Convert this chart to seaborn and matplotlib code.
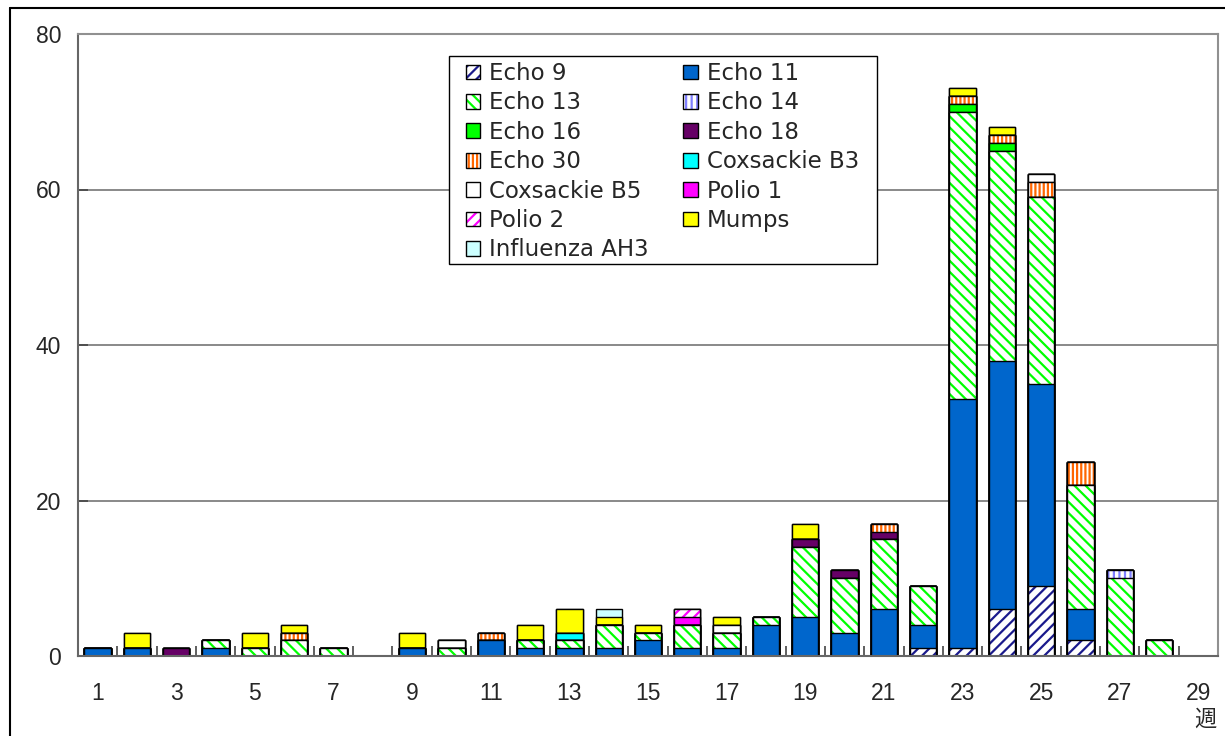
import matplotlib
matplotlib.use("Agg")
import matplotlib.pyplot as plt
from matplotlib.patches import Patch, Rectangle
import seaborn as sns
import pandas as pd
import numpy as np

# --- donnees : nombre de detections par semaine (semaines 1 a 29) ---
weeks = list(range(1, 30))
series = ["Echo 9", "Echo 11", "Echo 13", "Echo 14", "Echo 16", "Echo 18",
          "Echo 30", "Coxsackie B3", "Coxsackie B5", "Polio 1", "Polio 2",
          "Mumps", "Influenza AH3"]
#            1  2  3  4  5  6  7  8  9 10 11 12 13 14 15 16 17 18 19 20 21 22  23  24  25  26  27 28 29
echo9    = [0, 0, 0, 0, 0, 0, 0, 0, 0, 0, 0, 0, 0, 0, 0, 0, 0, 0, 0, 0, 0, 1,  1,  6,  9,  2,  0, 0, 0]
echo11   = [1, 1, 0, 1, 0, 0, 0, 0, 1, 0, 2, 1, 1, 1, 2, 1, 1, 4, 5, 3, 6, 3, 32, 32, 26,  4,  0, 0, 0]
echo13   = [0, 0, 0, 1, 1, 2, 1, 0, 0, 1, 0, 1, 1, 3, 1, 3, 2, 1, 9, 7, 9, 5, 37, 27, 24, 16, 10, 2, 0]
echo14   = [0, 0, 0, 0, 0, 0, 0, 0, 0, 0, 0, 0, 0, 0, 0, 0, 0, 0, 0, 0, 0, 0,  0,  0,  0,  0,  1, 0, 0]
echo16   = [0, 0, 0, 0, 0, 0, 0, 0, 0, 0, 0, 0, 0, 0, 0, 0, 0, 0, 0, 0, 0, 0,  1,  1,  0,  0,  0, 0, 0]
echo18   = [0, 0, 1, 0, 0, 0, 0, 0, 0, 0, 0, 0, 0, 0, 0, 0, 0, 0, 1, 1, 1, 0,  0,  0,  0,  0,  0, 0, 0]
echo30   = [0, 0, 0, 0, 0, 1, 0, 0, 0, 0, 1, 0, 0, 0, 0, 0, 0, 0, 0, 0, 1, 0,  1,  1,  2,  3,  0, 0, 0]
coxB3    = [0, 0, 0, 0, 0, 0, 0, 0, 0, 0, 0, 0, 1, 0, 0, 0, 0, 0, 0, 0, 0, 0,  0,  0,  0,  0,  0, 0, 0]
coxB5    = [0, 0, 0, 0, 0, 0, 0, 0, 0, 1, 0, 0, 0, 0, 0, 0, 1, 0, 0, 0, 0, 0,  0,  0,  1,  0,  0, 0, 0]
polio1   = [0, 0, 0, 0, 0, 0, 0, 0, 0, 0, 0, 0, 0, 0, 0, 1, 0, 0, 0, 0, 0, 0,  0,  0,  0,  0,  0, 0, 0]
polio2   = [0, 0, 0, 0, 0, 0, 0, 0, 0, 0, 0, 0, 0, 0, 0, 1, 0, 0, 0, 0, 0, 0,  0,  0,  0,  0,  0, 0, 0]
mumps    = [0, 2, 0, 0, 2, 1, 0, 0, 2, 0, 0, 2, 3, 1, 1, 0, 1, 0, 2, 0, 0, 0,  1,  1,  0,  0,  0, 0, 0]
fluAH3   = [0, 0, 0, 0, 0, 0, 0, 0, 0, 0, 0, 0, 0, 1, 0, 0, 0, 0, 0, 0, 0, 0,  0,  0,  0,  0,  0, 0, 0]
values = [echo9, echo11, echo13, echo14, echo16, echo18, echo30, coxB3,
          coxB5, polio1, polio2, mumps, fluAH3]

# style : (couleur de fond, motif, couleur du motif)
styles = {
    "Echo 9":        ("white",   "///",  "#1a1a8c"),
    "Echo 11":       ("#0066CC", None,   None),
    "Echo 13":       ("white",   "\\\\\\", "#00FF00"),
    "Echo 14":       ("white",   "|||",  "#8080FF"),
    "Echo 16":       ("#00FF00", None,   None),
    "Echo 18":       ("#660066", None,   None),
    "Echo 30":       ("white",   "||||", "#FF6600"),
    "Coxsackie B3":  ("#00FFFF", None,   None),
    "Coxsackie B5":  ("white",   None,   None),
    "Polio 1":       ("#FF00FF", None,   None),
    "Polio 2":       ("white",   "///",  "#FF00FF"),
    "Mumps":         ("#FFFF00", None,   None),
    "Influenza AH3": ("#CCFFFF", None,   None),
}

sns.set_theme(style="white")
plt.rcParams["font.family"] = ["Liberation Sans", "Noto Sans CJK JP", "DejaVu Sans"]
plt.rcParams["hatch.linewidth"] = 1.6

W, H = 1225, 736
fig = plt.figure(figsize=(W / 100, H / 100), dpi=100)
ax = fig.add_axes([78 / W, 1 - 656 / H, (1218 - 78) / W, (656 - 34) / H])

df = pd.DataFrame(np.array(values).T, columns=series)
df["week"] = [str(w) for w in weeks]
cum = df[series].cumsum(axis=1)
order = df["week"].tolist()
bw = 0.67

# empilement : on dessine les cumuls du haut vers le bas, chaque couche recouvre la suivante
for name in series[::-1]:
    face, hatch, hcol = styles[name]
    sns.barplot(x=df["week"], y=cum[name], order=order, color=face, saturation=1,
                width=bw, errorbar=None, ax=ax)
    for p in ax.containers[-1]:
        p.set_facecolor(face)
        if hatch:
            p.set_hatch(hatch)
            p.set_edgecolor(hcol)
        p.set_linewidth(0)
    sns.barplot(x=df["week"], y=cum[name], order=order, color="black", saturation=1,
                width=bw, errorbar=None, ax=ax)
    for p in ax.containers[-1]:
        p.set_facecolor("none")
        p.set_edgecolor("black")
        p.set_linewidth(1.0)

ax.set_xlim(-0.5, len(weeks) - 0.5)
ax.set_ylim(0, 80)
ax.set_yticks([0, 20, 40, 60, 80])
ax.yaxis.grid(True, color="#808080", linewidth=1.3)
ax.set_axisbelow(True)
ax.set_xlabel("")
ax.set_ylabel("")

# graduations : petits traits entre les categories
ax.set_xticks(np.arange(-0.5, len(weeks) - 0.4, 1), minor=False)
ax.set_xticklabels([])
ax.tick_params(axis="x", which="major", direction="in", length=7, width=1.2,
               color="#444444", bottom=True)
ax.set_xticks([i for i, w in enumerate(weeks) if w % 2 == 1], minor=True)
ax.set_xticklabels([str(w) for w in weeks if w % 2 == 1], minor=True)
ax.tick_params(axis="x", which="minor", length=0, pad=19, labelsize=16.5)
ax.tick_params(axis="y", direction="in", length=7, width=1.2, color="#444444",
               left=True, pad=12, labelsize=16.5)

for side in ["top", "right"]:
    ax.spines[side].set_color("#909090")
    ax.spines[side].set_linewidth(1.5)
ax.spines["left"].set_color("#666666")
ax.spines["left"].set_linewidth(1.5)
ax.spines["bottom"].set_color("#666666")
ax.spines["bottom"].set_linewidth(1.5)

fig.text(1205 / W, 1 - 719 / H, "週", ha="center", va="center", fontsize=16,
         family=["Noto Sans CJK JP", "DejaVu Sans"])

# legende sur deux colonnes (remplissage par ligne comme l'original)
handles = {}
for name in series:
    face, hatch, hcol = styles[name]
    fill = Patch(facecolor=face, hatch=hatch, edgecolor=hcol if hatch else face, linewidth=0)
    outline = Patch(facecolor="none", edgecolor="black", linewidth=1.0)
    handles[name] = (fill, outline)
col1 = series[0::2]
col2 = series[1::2]
leg_order = col1 + col2
leg = fig.legend([handles[n] for n in leg_order], leg_order, ncol=2,
                 loc="upper left", bbox_to_anchor=(466 / W, 1 - 62 / H),
                 prop={"family": "DejaVu Sans", "size": 16.5}, frameon=False,
                 borderpad=0, labelspacing=0.28,
                 handlelength=0.62, handleheight=0.62, handletextpad=0.4,
                 columnspacing=1.5, borderaxespad=0)
# cadre de la legende
fig.add_artist(Rectangle((449 / W, 1 - 264 / H), (877 - 449) / W, (264 - 56) / H,
                         transform=fig.transFigure, facecolor="white",
                         edgecolor="black", linewidth=1.0, zorder=4))
leg.set_zorder(5)

# cadre de la zone graphique
fig.add_artist(plt.Line2D([10 / W, 10 / W], [0, 1 - 8 / H], color="black",
                          linewidth=1.5, transform=fig.transFigure))
fig.add_artist(plt.Line2D([10 / W, 1], [1 - 8 / H, 1 - 8 / H], color="black",
                          linewidth=1.5, transform=fig.transFigure))

fig.savefig("out.png", dpi=100)
